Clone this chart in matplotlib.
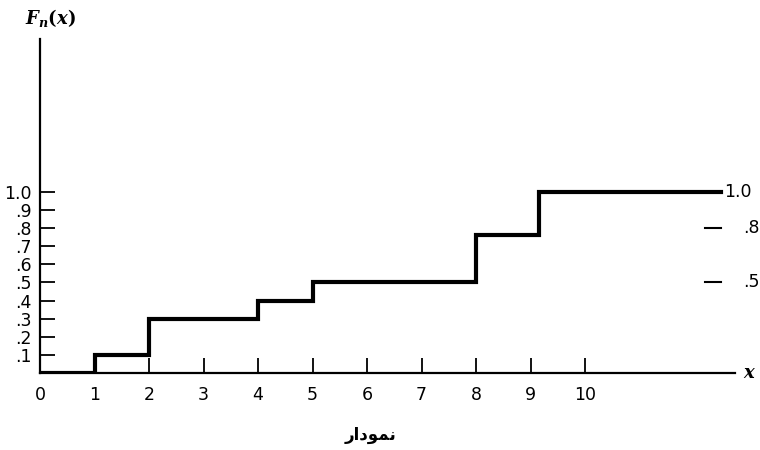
import matplotlib
matplotlib.use('Agg')
import matplotlib.pyplot as plt

# step function F_n(x): jump points and levels
x_steps = [0, 1, 2, 4, 5, 8, 9.15, 12.5]
F_vals = [0, 0.1, 0.3, 0.4, 0.5, 0.76, 1.0, 1.0]

x_ticks = [0, 1, 2, 3, 4, 5, 6, 7, 8, 9, 10]
y_ticks = [0.1, 0.2, 0.3, 0.4, 0.5, 0.6, 0.7, 0.8, 0.9, 1.0]
y_labels = ['.1', '.2', '.3', '.4', '.5', '.6', '.7', '.8', '.9', '1.0']

# marks on the right hand side
right_vals = [1.0, 0.8, 0.5]
right_labels = ['1.0', '.8', '.5']

# "نمودار" written as presentation forms in visual order (matplotlib does no arabic shaping)
caption = '\uFEAD\uFE8D\uFEA9\uFEEE\uFEE4\uFEE7'

plt.rcParams['mathtext.fontset'] = 'custom'
plt.rcParams['mathtext.it'] = 'DejaVu Serif:bold:italic'
plt.rcParams['mathtext.rm'] = 'DejaVu Serif:bold'

fig = plt.figure(figsize=(7.6, 4.5), dpi=100)
ax = fig.add_axes([40 / 760, 77 / 450, 695 / 760, 334 / 450])
ax.set_xlim(0, 12.75)
ax.set_ylim(0, 1.845)

ax.step(x_steps, F_vals, where='post', color='black', lw=3, solid_joinstyle='miter')

for sp in ['top', 'right']:
    ax.spines[sp].set_visible(False)
for sp in ['left', 'bottom']:
    ax.spines[sp].set_linewidth(1.6)

ax.set_xticks(x_ticks)
ax.set_xticklabels([str(t) for t in x_ticks])
ax.set_yticks(y_ticks)
ax.set_yticklabels(y_labels)
ax.tick_params(axis='both', direction='in', length=11, width=1.3, labelsize=12.5)
ax.tick_params(axis='x', pad=9)
ax.tick_params(axis='y', pad=6)

# right side values with small dashes
for v, lab in zip(right_vals, right_labels):
    if v < 1.0:
        ax.plot([12.2, 12.5], [v, v], color='black', lw=1.5, clip_on=False)
        ax.text(12.9, v, lab, fontsize=12.5, va='center', ha='left', clip_on=False)
    else:
        ax.text(12.55, v, lab, fontsize=12.5, va='center', ha='left', clip_on=False)

ax.text(12.9, 0, '$x$', fontsize=13, va='center', ha='left', clip_on=False)
fig.text(50 / 760, 1 - 18 / 450, '$F_n(x)$', fontsize=13, ha='center', va='center')
fig.text(370 / 760, 1 - 435 / 450, caption, fontsize=12, fontweight='bold',
         family='DejaVu Sans', ha='center', va='center')

fig.savefig('out.png', dpi=100)
